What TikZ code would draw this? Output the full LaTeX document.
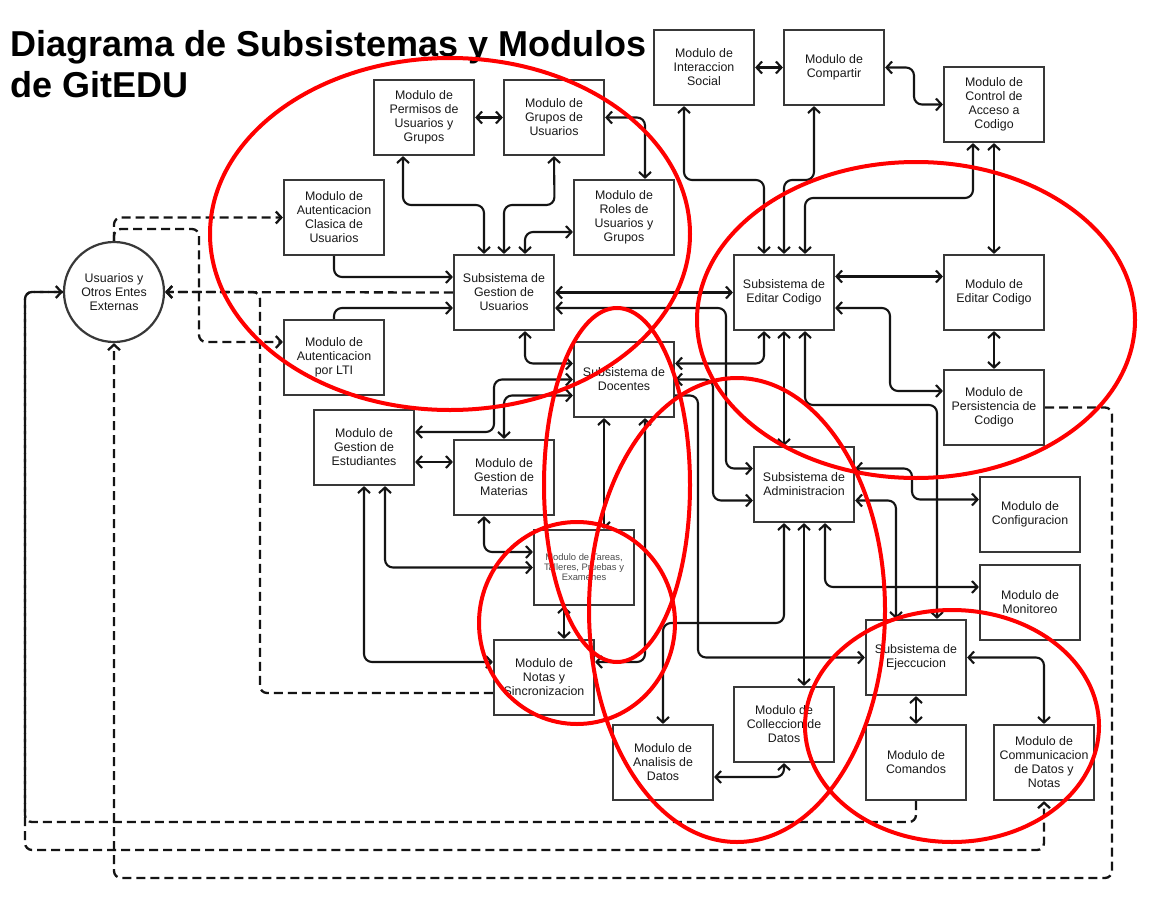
\documentclass[tikz,border=0pt]{standalone}
\usepackage{fontspec}
\setmainfont{Liberation Sans}
\usetikzlibrary{arrows.meta,calc}
\begin{document}
\begin{tikzpicture}[x=1pt,y=-1pt,
  >={Straight Barb[length=5.5pt,width=12pt]},
  box/.style={draw=black!78, line width=2.2pt, minimum width=100pt, minimum height=75pt,
    inner sep=1pt, align=center, font=\fontsize{12.4}{14}\selectfont, text=black!90},
  smallbox/.style={box, font=\fontsize{9.4}{10}\selectfont, text=black!70},
  usrnode/.style={draw=black!78, line width=2.2pt, circle, minimum size=100pt, inner sep=0pt,
    align=center, font=\fontsize{12.4}{14}\selectfont, text=black!90},
  conn/.style={draw=black!92, line width=2.1pt, rounded corners=8pt},
  dashline/.style={draw=black!92, line width=2.3pt, dash pattern=on 9pt off 5pt, rounded corners=7pt},
  redmark/.style={draw=red, line width=4pt},
  titletext/.style={anchor=base west, inner sep=0pt, font=\fontsize{36}{41}\selectfont\bfseries}]

\fill[white] (0,0) rectangle (1154,902);
\useasboundingbox (0,0) rectangle (1154,902);

% title
\node[titletext] (title1) at (10,56) {Diagrama de Subsistemas y Modulos};
\node[titletext] (title2) at (10,97) {de GitEDU};

% nodes
\node[box] (inter) at (704,67.5) {Modulo de\\Interaccion\\Social};
\node[box] (comp) at (834,67.5) {Modulo de\\Compartir};
\node[box] (ctrl) at (994,104.5) {Modulo de\\Control de\\Acceso a\\Codigo};
\node[box] (perm) at (424,117.5) {Modulo de\\Permisos de\\Usuarios y\\Grupos};
\node[box] (grup) at (554,117.5) {Modulo de\\Grupos de\\Usuarios};
\node[box] (autc) at (334,217.5) {Modulo de\\Autenticacion\\Clasica de\\Usuarios};
\node[box] (roles) at (624,217.5) {Modulo de\\Roles de\\Usuarios y\\Grupos};
\node[box] (gu) at (504,292.5) {Subsistema de\\Gestion de\\Usuarios};
\node[box] (sec) at (784,292.5) {Subsistema de\\Editar Codigo};
\node[box] (mec) at (994,292.5) {Modulo de\\Editar Codigo};
\node[box] (lti) at (334,357.5) {Modulo de\\Autenticacion\\por LTI};
\node[box] (doc) at (624,379.5) {Subsistema de\\Docentes};
\node[box] (pers) at (994,407.5) {Modulo de\\Persistencia de\\Codigo};
\node[box] (gest) at (364,447.5) {Modulo de\\Gestion de\\Estudiantes};
\node[box] (gmat) at (504,477.5) {Modulo de\\Gestion de\\Materias};
\node[box] (adm) at (804,484.5) {Subsistema de\\Administracion};
\node[box] (conf) at (1030,514.5) {Modulo de\\Configuracion};
\node[smallbox] (tar) at (584,567.5) {Modulo de Tareas,\\Talleres, Pruebas y\\Examenes};
\node[box] (mon) at (1030,602.5) {Modulo de\\Monitoreo};
\node[box] (eje) at (916,657.5) {Subsistema de\\Ejeccucion};
\node[box] (notas) at (544,677.5) {Modulo de\\Notas y\\Sincronizacion};
\node[box] (col) at (784,724.5) {Modulo de\\Colleccion de\\Datos};
\node[box] (ana) at (663,762.5) {Modulo de\\Analisis de\\Datos};
\node[box] (com) at (916,762.5) {Modulo de\\Comandos};
\node[box] (comm) at (1044,762.5) {Modulo de\\Communicacion\\de Datos y\\Notas};
\node[usrnode] (usr) at (114,292) {Usuarios y\\Otros Entes\\Externas};

% solid connectors
\draw[conn,<->] (inter.east) -- (comp.west);
\draw[conn,<->] (comp.east) -- (914,67.5) -- (914,104.5) -- (ctrl.west);
\draw[conn,<->] (perm.east) -- (grup.west);
\draw[conn,<->] (grup.east) -- (645,117.5) -- ($(roles.north)+(21,0)$);
\draw[conn,<->] ($(perm.south)+(-21,0)$) -- (403,205) -- (484,205) -- ($(gu.north)+(-20,0)$);
\draw[conn,<->] (grup.south) -- (554.5,205) -- (504,205) -- (gu.north);
\draw[conn,<->] ($(gu.north)+(21,0)$) -- (525,232) -- ($(roles.west)+(0,14.5)$);
\draw[conn,->] (autc.south) -- (334,277) -- ($(gu.west)+(0,-15.5)$);
\draw[conn,->] (lti.north) -- (334,308) -- ($(gu.west)+(0,15.5)$);
\draw[conn,<->] (gu.east) -- (sec.west);
\draw[conn,<->] ($(gu.east)+(0,15.5)$) -- (726,308) -- (726,468.5) -- ($(adm.west)+(0,-16)$);
\draw[conn,<->] ($(gu.south)+(21,0)$) -- (525,363.5) -- ($(doc.west)+(0,-16)$);
\draw[conn,<->] ($(gest.east)+(0,-15.5)$) -- (494,432) -- (494,379.5) -- (doc.west);
\draw[conn,<->] (gmat.north) -- (504,395.5) -- ($(doc.west)+(0,16)$);
\draw[conn,<->] ($(gest.east)+(0,14.5)$) -- ($(gmat.west)+(0,-15.5)$);
\draw[conn,<->] ($(sec.south)+(-20,0)$) -- (764,363.5) -- ($(doc.east)+(0,-16)$);
\draw[conn,<->] (doc.east) -- (713,379.5) -- (713,500.5) -- ($(adm.west)+(0,16)$);
\draw[conn,->] ($(doc.east)+(0,16)$) -- (698,395.5) -- (698,657.5) -- (eje.west);
\draw[conn,<->] ($(doc.south)+(-20,0)$) -- ($(tar.north)+(20,0)$);
\draw[conn,<->] ($(notas.east)+(0,-15.5)$) -- (645,662) -- ($(doc.south)+(21,0)$);
\draw[conn,<->] ($(gmat.south)+(-20,0)$) -- (484,552) -- ($(tar.west)+(0,-15.5)$);
\draw[conn,<->] ($(gest.south)+(21,0)$) -- (385,567.5) -- (tar.west);
\draw[conn,<->] (gest.south) -- (364,662) -- ($(notas.west)+(0,-15.5)$);
\draw[conn,<->] ($(tar.south)+(-20,0)$) -- ($(notas.north)+(20,0)$);
\draw[conn,<->] ($(inter.south)+(-20,0)$) -- (684,180) -- (764,180) -- ($(sec.north)+(-20,0)$);
\draw[conn,<->] ($(comp.south)+(-20,0)$) -- (814,180) -- (784,180) -- (sec.north);
\draw[conn,<->] ($(ctrl.south)+(-21,0)$) -- (973,198) -- (805,198) -- ($(sec.north)+(21,0)$);
\draw[conn,<->] (ctrl.south) -- (mec.north);
\draw[conn,<->] ($(sec.east)+(0,-16)$) -- ($(mec.west)+(0,-16)$);
\draw[conn,<->] ($(sec.east)+(0,15.5)$) -- (890,308) -- (890,391) -- ($(pers.west)+(0,-16.5)$);
\draw[conn,<->] (mec.south) -- (pers.north);
\draw[conn,<->] (sec.south) -- ($(adm.north)+(-20,0)$);
\draw[conn,<->] ($(sec.south)+(21,0)$) -- (805,405) -- (937,405) -- ($(eje.north)+(21,0)$);
\draw[conn,<->] ($(adm.east)+(0,-16)$) -- (912,468.5) -- (912,499.5) -- ($(conf.west)+(0,-15)$);
\draw[conn,<->] ($(adm.east)+(0,16)$) -- (896,500.5) -- ($(eje.north)+(-20,0)$);
\draw[conn,<->] ($(adm.south)+(21,0)$) -- (825,587) -- ($(mon.west)+(0,-15.5)$);
\draw[conn,<->] (adm.south) -- ($(col.north)+(20,0)$);
\draw[conn,<->] ($(adm.south)+(-20,0)$) -- (784,623) -- (663,623) -- (ana.north);
\draw[conn,<->] ($(ana.east)+(0,14.5)$) -- (784,777) -- (col.south);
\draw[conn,<->] (eje.south) -- (com.north);
\draw[conn,<->] (eje.east) -- (1044,657.5) -- (comm.north);

% dashed connectors
\draw[dashline,->] (gu.west) -- (usr.east);
\draw[dashline,->] ($(notas.west)+(0,15.5)$) -- (260,693) -- (260,292) -- (usr.east);
\draw[dashline,->] (usr.north) -- (114,217.5) -- (autc.west);
\draw[dashline,->] (usr.north) -- (114,229) -- (199,229) -- (199,342) -- ($(lti.west)+(0,-15.5)$);
\draw[dashline,->] (com.south) -- (916,822) -- (25,822) -- (25,292) -- (usr.west);
\draw[dashline,->] (usr.west) -- (25,292) -- (25,850) -- (1044,850) -- (comm.south);
\draw[dashline,->] (pers.east) -- (1112,407.5) -- (1112,878) -- (114,878) -- (usr.south);

% red annotation ellipses
\draw[redmark] (450,234) ellipse [x radius=240pt, y radius=176pt];
\draw[redmark] (916,320) ellipse [x radius=219pt, y radius=158pt];
\draw[redmark] (617,485) ellipse [x radius=73pt, y radius=177pt];
\draw[redmark] (737,610) ellipse [x radius=148pt, y radius=232pt];
\draw[redmark] (577,623) ellipse [x radius=98pt, y radius=101pt];
\draw[redmark] (952,726) ellipse [x radius=147pt, y radius=116pt];
\end{tikzpicture}
\end{document}
